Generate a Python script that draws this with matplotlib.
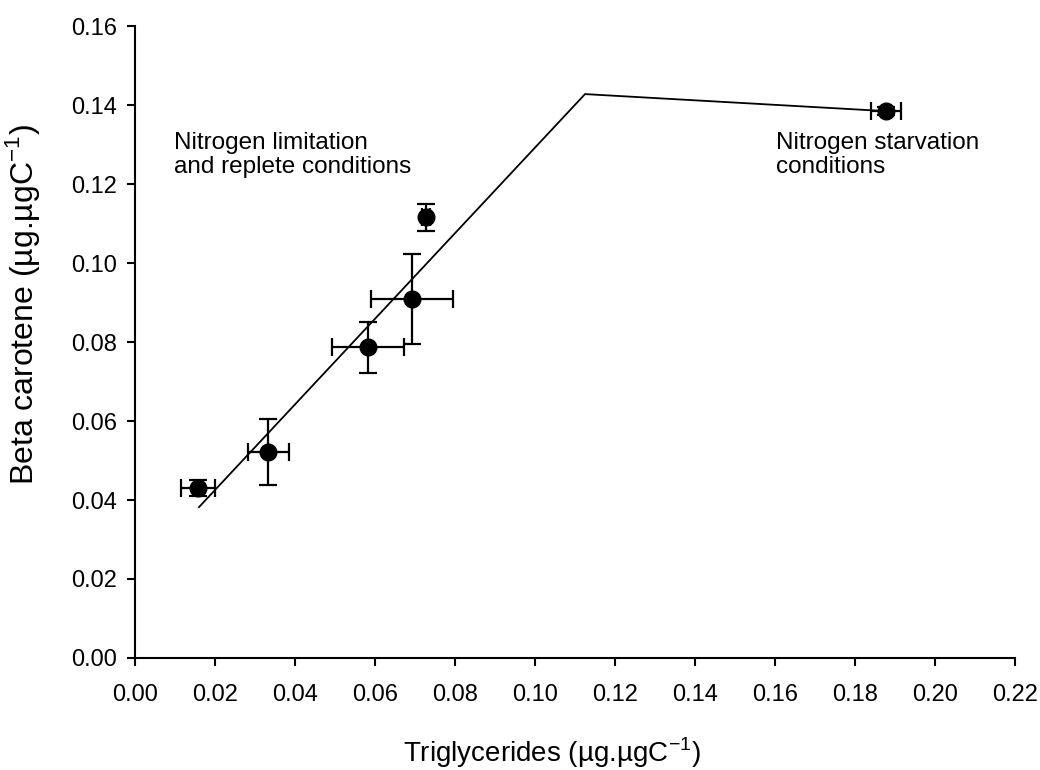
import numpy as np
import matplotlib
matplotlib.use("Agg")
import matplotlib.pyplot as plt
from matplotlib.ticker import FormatStrFormatter

plt.rcParams['font.family'] = ['Liberation Sans', 'DejaVu Sans']
plt.rcParams['mathtext.fontset'] = 'custom'
plt.rcParams['mathtext.rm'] = 'Liberation Sans'

# measured points
trig = [0.0158, 0.0333, 0.0583, 0.0693, 0.0728, 0.1878]
trig_err = [0.0042, 0.0051, 0.0090, 0.0103, 0.0010, 0.0037]
beta = [0.0431, 0.0521, 0.0787, 0.0909, 0.1116, 0.1385]
beta_err = [0.0020, 0.0083, 0.0065, 0.0114, 0.0034, 0.0010]

# fitted broken-line model
fit_x = [0.016, 0.1125, 0.1875]
fit_y = [0.0382, 0.1428, 0.1385]

fig = plt.figure(figsize=(10.4, 7.7), dpi=100)
ax = fig.add_axes([0.1298, 0.1455, 0.8462, 0.8205])

ax.plot(fit_x, fit_y, color='black', lw=1.3)
ax.errorbar(trig, beta, xerr=trig_err, yerr=beta_err, linestyle='none', marker='o',
            color='black', markersize=12, elinewidth=1.6, capsize=6.5, capthick=1.6)

ax.text(0.0098, 0.1273, "Nitrogen limitation\nand replete conditions", fontsize=17.5,
        va='center', ha='left', linespacing=1.1)
ax.text(0.1602, 0.1273, "Nitrogen starvation\nconditions", fontsize=17.5,
        va='center', ha='left', linespacing=1.1)

ax.set_xlim(0, 0.22)
ax.set_ylim(0, 0.16)
ax.set_xticks(np.arange(0, 0.2201, 0.02))
ax.set_yticks(np.arange(0, 0.1601, 0.02))
ax.xaxis.set_major_formatter(FormatStrFormatter('%.2f'))
ax.yaxis.set_major_formatter(FormatStrFormatter('%.2f'))
ax.tick_params(direction='out', length=6, width=1.5, labelsize=17, pad=7)
ax.tick_params(axis='x', pad=13)

ax.spines['top'].set_visible(False)
ax.spines['right'].set_visible(False)
ax.spines['left'].set_linewidth(1.5)
ax.spines['bottom'].set_linewidth(1.5)

ax.set_xlabel("Triglycerides (µg.µgC$^{-1}$)", fontsize=20)
ax.set_ylabel("Beta carotene (µg.µgC$^{-1}$)", fontsize=23)
ax.xaxis.set_label_coords(0.474, -0.122)
ax.yaxis.set_label_coords(-0.106, 0.56)

fig.savefig("out.png", dpi=100)
